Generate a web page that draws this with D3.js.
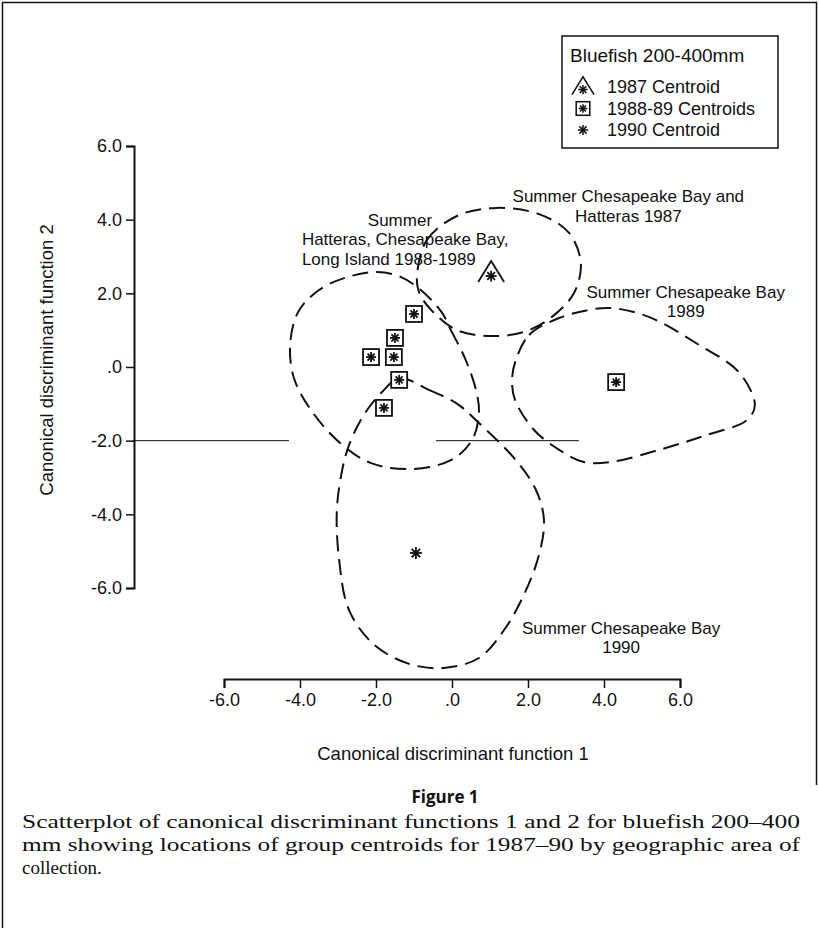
<!DOCTYPE html>
<html>
<head>
<meta charset="utf-8">
<script src="https://cdn.jsdelivr.net/npm/d3@7"></script>
<style>
  body { margin: 0; background: #fff; }
  text { font-family: "Liberation Sans", Arial, sans-serif; fill: #111; }
</style>
</head>
<body>
<svg id="chart"></svg>
<script>

// tick values for both axes
var xTicks = [-6, -4, -2, 0, 2, 4, 6];
var yTicks = [-6, -4, -2, 0, 2, 4, 6];

// group centroids
var centroid1987 = [[1.03, 2.55]];
var centroids8889 = [[-1.0, 1.44], [-1.5, 0.79], [-2.13, 0.27], [-1.53, 0.27], [-1.39, -0.35], [-1.79, -1.11], [4.32, -0.41]];
var centroid1990 = [[-0.95, -5.05]];

// dashed group outlines (data units)
var outline1987 = [[-0.92, 2.50], [-0.66, 3.45], [0.13, 4.10], [1.16, 4.32], [2.29, 4.15], [3.08, 3.64], [3.39, 2.82],
  [3.21, 2.01], [2.63, 1.36], [1.89, 0.95], [1.03, 0.84], [0.13, 1.0], [-0.55, 1.55], [-0.87, 2.04]];
var outline8889 = [[-0.26, 1.47], [-0.03, 1.0], [0.34, 0.24], [0.63, -0.62], [0.71, -1.25], [0.53, -1.98],
  [-0.03, -2.53], [-1.08, -2.77], [-2.13, -2.61], [-2.97, -2.04], [-3.71, -1.17], [-4.16, -0.30], [-4.26, 0.60],
  [-4.05, 1.49], [-3.5, 2.09], [-2.76, 2.44], [-1.97, 2.58], [-1.34, 2.44], [-0.82, 2.09]];
var outline1989 = [[1.68, 0.19], [2.03, 0.87], [2.82, 1.33], [3.61, 1.55], [4.21, 1.60], [5.18, 1.36], [6.5, 0.60],
  [7.55, -0.14], [7.97, -1.03], [7.76, -1.44], [6.63, -1.87], [5.45, -2.25], [4.18, -2.58], [3.47, -2.58],
  [2.82, -2.25], [2.16, -1.71], [1.66, -0.90], [1.58, -0.35]];
var outline1990 = [[-1.39, -0.30], [-0.61, -0.62], [0.11, -0.98], [0.71, -1.52], [1.68, -2.53], [2.21, -3.34],
  [2.42, -4.15], [2.29, -5.10], [1.89, -6.19], [1.37, -7.14], [0.71, -7.90], [-0.21, -8.17], [-1.13, -8.06],
  [-2.05, -7.54], [-2.71, -6.60], [-2.97, -5.24], [-3.03, -3.88], [-2.89, -2.80], [-2.71, -2.12], [-2.32, -1.30],
  [-1.84, -0.68]];

// thin reference segments at y = -2
var refLines = [[[-8.4, -2], [-4.29, -2]], [[-0.42, -2], [3.34, -2]]];

// group label lines: [x, y, text, anchor]
var labelLines = [
  [-1.37, 3.82, "Summer", "middle"],
  [-3.95, 3.30, "Hatteras, Chesapeake Bay,", "start"],
  [-3.95, 2.78, "Long Island 1988-1989", "start"],
  [4.64, 4.47, "Summer Chesapeake Bay and", "middle"],
  [4.64, 3.95, "Hatteras 1987", "middle"],
  [6.15, 1.87, "Summer Chesapeake Bay", "middle"],
  [6.15, 1.35, "1989", "middle"],
  [4.45, -7.25, "Summer Chesapeake Bay", "middle"],
  [4.45, -7.77, "1990", "middle"]
];

var legendTitle = "Bluefish  200-400mm";
var legendItems = ["1987  Centroid", "1988-89  Centroids", "1990  Centroid"];

var captionTitle = "Figure 1";
var captionLines = [
  "Scatterplot of canonical discriminant functions 1 and 2 for bluefish 200\u2013400",
  "mm showing locations of group centroids for 1987\u201390 by geographic area of",
  "collection."
];

var config = { w: 819, h: 928 };

var svg = d3.select("#chart").attr("width", config.w).attr("height", config.h);
svg.append("rect").attr("width", config.w).attr("height", config.h).attr("fill", "#fff");

// page frame
svg.append("path")
  .attr("d", "M2.5,928V2.5H816.5V785")
  .attr("fill", "none").attr("stroke", "#111").attr("stroke-width", 1.5);

var x = d3.scaleLinear().domain([-6, 6]).range([224, 680]);
var y = d3.scaleLinear().domain([-6, 6]).range([588, 146]);

var fmt = function(d) { return d === 0 ? ".0" : d3.format(".1f")(d).replace("\u2212", "-"); };

// x axis, detached below the plot
svg.append("g")
  .attr("transform", "translate(0,679)")
  .call(d3.axisBottom(x).tickValues(xTicks).tickFormat(fmt).tickSizeOuter(0).tickSize(9).tickPadding(5));

// y axis, detached to the left
svg.append("g")
  .attr("transform", "translate(134,0)")
  .call(d3.axisLeft(y).tickValues(yTicks).tickFormat(fmt).tickSizeOuter(0).tickSize(8).tickPadding(4));

svg.selectAll(".domain").attr("stroke", "#111").attr("stroke-width", 2);
svg.selectAll(".tick line").attr("stroke", "#111").attr("stroke-width", 1.5);
svg.selectAll(".tick text").style("font-family", "Liberation Sans, Arial, sans-serif")
  .style("font-size", "18px").attr("fill", "#111");

svg.append("text")
  .attr("x", 453).attr("y", 760)
  .attr("text-anchor", "middle").style("font-size", "18.5px")
  .text("Canonical discriminant function 1");

svg.append("text")
  .attr("transform", "translate(53,360) rotate(-90)")
  .attr("text-anchor", "middle").style("font-size", "18.5px")
  .text("Canonical discriminant function 2");

// reference segments
var segLine = d3.line().x(function(d) { return x(d[0]); }).y(function(d) { return y(d[1]); });

svg.selectAll("path.ref")
  .data(refLines)
  .enter()
  .append("path")
  .attr("class", "ref")
  .attr("d", segLine)
  .attr("fill", "none")
  .attr("stroke", "#111").attr("stroke-width", 1);

// dashed outlines
var outlinePath = d3.line()
  .x(function(d) { return x(d[0]); })
  .y(function(d) { return y(d[1]); })
  .curve(d3.curveCatmullRomClosed);

svg.selectAll("path.group")
  .data([outline1987, outline8889, outline1989, outline1990])
  .enter()
  .append("path")
  .attr("class", "group")
  .attr("d", outlinePath)
  .attr("fill", "none")
  .attr("stroke", "#111")
  .attr("stroke-width", 2)
  .attr("stroke-dasharray", "16,8");

// markers
function drawStar(g, r) {
  var arms = [0, 45, 90, 135];
  arms.forEach(function(a) {
    var rad = a * Math.PI / 180;
    g.append("line")
      .attr("x1", -r * Math.cos(rad)).attr("y1", -r * Math.sin(rad))
      .attr("x2", r * Math.cos(rad)).attr("y2", r * Math.sin(rad))
      .attr("stroke", "#111").attr("stroke-width", 1.8);
  });
}

function drawSquare(g) {
  g.append("rect").attr("x", -8).attr("y", -8).attr("width", 16).attr("height", 16)
    .attr("fill", "#fff").attr("stroke", "#111").attr("stroke-width", 1.8);
  drawStar(g, 5);
}

function drawTriangle(g) {
  g.append("path").attr("d", "M-13,9L0,-12L13,9")
    .attr("fill", "none").attr("stroke", "#111").attr("stroke-width", 1.8);
  drawStar(g.append("g").attr("transform", "translate(0,3)"), 5.5);
}

function place(data, drawer) {
  svg.selectAll(null)
    .data(data)
    .enter()
    .append("g")
    .attr("transform", function(d) { return "translate(" + x(d[0]) + "," + y(d[1]) + ")"; })
    .each(function() { drawer(d3.select(this)); });
}

place(centroid1987, drawTriangle);
place(centroids8889, drawSquare);
place(centroid1990, function(g) { drawStar(g, 6); });

// group labels
svg.selectAll("text.label")
  .data(labelLines)
  .enter()
  .append("text")
  .attr("class", "label")
  .attr("x", function(d) { return x(d[0]); })
  .attr("y", function(d) { return y(d[1]); })
  .attr("text-anchor", function(d) { return d[3]; })
  .style("font-size", "17px")
  .text(function(d) { return d[2]; });

// legend
var legend = svg.append("g").attr("transform", "translate(562,36)");
legend.append("rect").attr("width", 216).attr("height", 112)
  .attr("fill", "#fff").attr("stroke", "#111").attr("stroke-width", 1.5);
legend.append("text").attr("x", 8).attr("y", 26).style("font-size", "19px").text(legendTitle);

var drawers = [drawTriangle, drawSquare, function(g) { drawStar(g, 6); }];
legendItems.forEach(function(s, i) {
  var yy = 51 + i * 21.5;
  drawers[i](legend.append("g").attr("transform", "translate(21," + yy + ") scale(0.85)"));
  legend.append("text").attr("x", 45).attr("y", yy + 6).style("font-size", "18px").text(s);
});

// caption
svg.append("text")
  .attr("x", 445).attr("y", 803)
  .attr("text-anchor", "middle")
  .style("font-family", "Open Sans, sans-serif")
  .style("font-weight", "bold").style("font-size", "17px")
  .text(captionTitle);

captionLines.forEach(function(s, i) {
  var t = svg.append("text")
    .attr("x", 22).attr("y", 828 + i * 23)
    .style("font-family", "Liberation Serif, serif")
    .style("font-size", "19px")
    .text(s);
  if (i < 2) t.attr("textLength", 778).attr("lengthAdjust", "spacingAndGlyphs");
});

</script>
</body>
</html>
